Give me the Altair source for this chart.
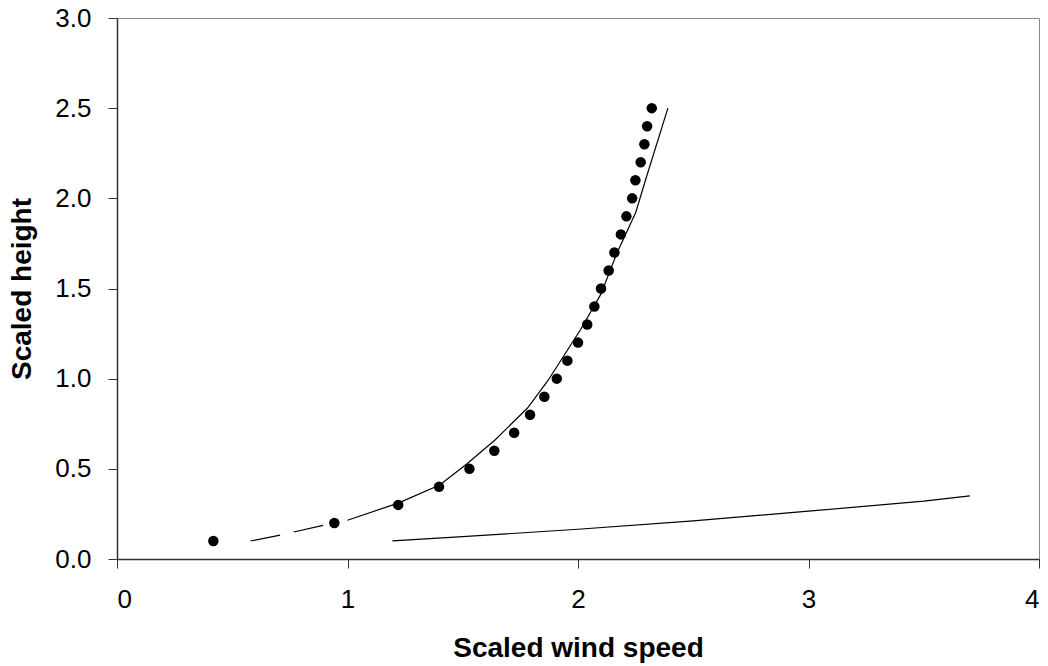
import altair as alt
import pandas as pd

# Observed points (filled circles)
obs_x = [0.418, 0.943, 1.22, 1.397, 1.529, 1.637, 1.723, 1.792, 1.854, 1.908,
         1.954, 2.0, 2.04, 2.071, 2.10, 2.133, 2.158, 2.186, 2.21, 2.235,
         2.249, 2.272, 2.288, 2.30, 2.32]
obs_y = [0.1, 0.2, 0.3, 0.4, 0.5, 0.6, 0.7, 0.8, 0.9, 1.0,
         1.1, 1.2, 1.3, 1.4, 1.5, 1.6, 1.7, 1.8, 1.9, 2.0,
         2.1, 2.2, 2.3, 2.4, 2.5]

# Model curve: dashed lower part
dash_x = [0.58, 0.71, 0.94]
dash_y = [0.10, 0.133, 0.20]

# Model curve: solid part
model_x = [1.00, 1.22, 1.40, 1.52, 1.58, 1.64, 1.78, 1.87, 2.01, 2.10, 2.17, 2.25, 2.295, 2.39]
model_y = [0.215, 0.31, 0.41, 0.53, 0.595, 0.66, 0.836, 0.99, 1.27, 1.47, 1.70, 1.92, 2.11, 2.5]

# Second (flat) curve
low_x = [1.195, 1.5, 2.0, 2.5, 3.0, 3.5, 3.7]
low_y = [0.10, 0.124, 0.165, 0.211, 0.265, 0.321, 0.35]

x_ticks = [0, 1, 2, 3, 4]
y_ticks = [0.0, 0.5, 1.0, 1.5, 2.0, 2.5, 3.0]

obs = pd.DataFrame({"x": obs_x, "y": obs_y})
dash = pd.DataFrame({"x": dash_x, "y": dash_y, "o": range(len(dash_x))})
model = pd.DataFrame({"x": model_x, "y": model_y, "o": range(len(model_x))})
low = pd.DataFrame({"x": low_x, "y": low_y, "o": range(len(low_x))})

FONT = "Liberation Sans"

xscale = alt.Scale(domain=[0, 4], nice=False, zero=False)
yscale = alt.Scale(domain=[0, 3], nice=False, zero=False)

xaxis = alt.Axis(values=x_ticks, format="d", title="Scaled wind speed",
                 grid=False, tickSize=9, labelPadding=18,
                 titleBaseline="middle", titleY=89)
yaxis = alt.Axis(values=y_ticks, format=".1f", title="Scaled height",
                 grid=False, tickSize=9, labelPadding=17,
                 titleBaseline="middle", titleX=-95)

X = alt.X("x:Q", scale=xscale, axis=xaxis)
Y = alt.Y("y:Q", scale=yscale, axis=yaxis)
Xn = alt.X("x:Q", scale=xscale)
Yn = alt.Y("y:Q", scale=yscale)

points = alt.Chart(obs).mark_circle(size=110, color="black", opacity=1).encode(x=X, y=Y)
dashed = alt.Chart(dash).mark_line(color="black", strokeWidth=1.2, strokeDash=[30, 14]).encode(
    x=Xn, y=Yn, order="o:Q")
solid = alt.Chart(model).mark_line(color="black", strokeWidth=1.2).encode(
    x=Xn, y=Yn, order="o:Q")
lower = alt.Chart(low).mark_line(color="black", strokeWidth=1.2).encode(
    x=Xn, y=Yn, order="o:Q")

chart = alt.layer(solid, dashed, lower, points).properties(
    width=922, height=541,
    autosize=alt.AutoSizeParams(type="none"),
    padding={"left": 117, "top": 18, "right": 9, "bottom": 107},
    background="white",
).configure_view(
    stroke="#888888", strokeWidth=1
).configure_axis(
    domainColor="#333333", domainWidth=1.5, tickColor="#333333", tickWidth=1,
    labelFont=FONT, labelFontSize=26, labelColor="black",
    titleFont=FONT, titleFontSize=28, titleFontWeight="bold", titleColor="black",
)

chart.save("out.html", embed_options={"renderer": "svg", "actions": False})
